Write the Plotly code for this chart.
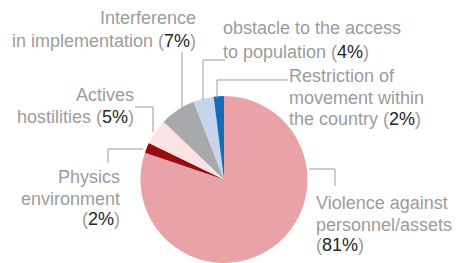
import plotly.graph_objects as go

# ---- data ----
categories = [
    "Violence against<br>personnel/assets",
    "Physics<br>environment",
    "Actives<br>hostilities",
    "Interference<br>in implementation",
    "obstacle to the access<br>to population",
    "Restriction of<br>movement within<br>the country",
]
values = [81, 2, 5, 7, 4, 2]
colors = ["#E9A3A7", "#9A0B10", "#FCE3E3", "#A7A9AC", "#C6D4EC", "#166AB6"]
pct_on_own_line = [True, True, False, False, False, False]

W, H = 459, 263
GRAY = "#9C9C9C"
DARK = "#262626"
FONT = "Liberation Sans, Arial, sans-serif"

def px(x):
    return x / W

def py(y):
    return 1 - y / H

fig = go.Figure(go.Pie(
    labels=[c.replace("<br>", " ") for c in categories],
    values=values,
    marker=dict(colors=colors, line=dict(width=0)),
    sort=False,
    direction="clockwise",
    rotation=0,
    textinfo="none",
    hoverinfo="none",
    showlegend=False,
    domain=dict(x=[140 / W, 308 / W], y=[0, 167 / H]),
))

# label layout: anchor x, xanchor, line centre y's (pixels)
label_layout = [
    (315, "left", [203, 225, 245]),
    (121, "right", [177, 199, 219]),
    (135, "right", [95, 117]),
    (197, "right", [18.5, 41.5]),
    (222, "left", [28, 52]),
    (288, "left", [76, 98, 119]),
]

annotations = []
for cat, val, own, (ax, anc, ys) in zip(categories, values, pct_on_own_line, label_layout):
    lines = cat.split("<br>")
    pct = f"(<span style='color:{DARK}'>{val}%</span>)"
    if own:
        lines = lines + [pct]
    else:
        lines[-1] = lines[-1] + " " + pct
    for line, y in zip(lines, ys):
        annotations.append(dict(
            x=px(ax), y=py(y), xref="paper", yref="paper",
            xanchor=anc, yanchor="middle", text=line, showarrow=False,
            font=dict(family=FONT, size=18, color=GRAY), borderpad=0,
        ))

leaders = [
    [(309, 169), (335, 169), (335, 186)],
    [(108, 163), (108, 149), (143, 149)],
    [(135, 107), (153, 107), (153, 132)],
    [(182, 52), (182, 110)],
    [(225, 60), (203, 60), (203, 100)],
    [(288, 80), (217, 80), (217, 98)],
]
shapes = []
for pts in leaders:
    path = "M " + " L ".join(f"{px(x):.5f},{py(y):.5f}" for x, y in pts)
    shapes.append(dict(type="path", path=path, xref="paper", yref="paper",
                       line=dict(color=GRAY, width=1)))

fig.update_layout(
    width=W, height=H,
    margin=dict(l=0, r=0, t=0, b=0),
    paper_bgcolor="white", plot_bgcolor="white",
    annotations=annotations, shapes=shapes,
    font=dict(family=FONT),
)

fig.write_html("out.html", config={"displayModeBar": False},
               post_script="document.body.style.margin='0';document.body.style.overflow='hidden';")
